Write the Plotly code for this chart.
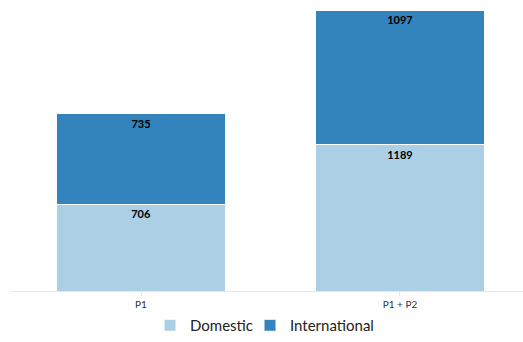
import plotly.graph_objects as go

categories = ["P1", "P1 + P2"]
domestic = [706, 1189]
international = [735, 1097]

label_font = dict(color="black", size=11, family="Lato", weight="bold")

fig = go.Figure()
fig.add_trace(go.Bar(
    x=categories, y=domestic, name="Domestic", legend="legend",
    marker=dict(color="#abd0e6", line=dict(color="white", width=1)),
    text=[str(v) for v in domestic], textposition="inside",
    insidetextanchor="end", textfont=label_font,
))
fig.add_trace(go.Bar(
    x=categories, y=international, name="International", legend="legend2",
    marker=dict(color="#3383bd", line=dict(color="white", width=1)),
    text=[str(v) for v in international], textposition="inside",
    insidetextanchor="end", textfont=label_font,
))

leg_common = dict(orientation="h", xanchor="left", y=0, yanchor="bottom",
                  bgcolor="rgba(0,0,0,0)",
                  font=dict(size=15, color="#222"), itemwidth=30)
fig.update_layout(
    barmode="stack",
    bargap=0.35,
    width=523, height=342,
    margin=dict(l=11, r=0, t=10, b=0),
    paper_bgcolor="white", plot_bgcolor="white",
    font=dict(family="Lato", color="#333"),
    showlegend=True,
    legend=dict(x=(150 - 11) / 512, **leg_common),
    legend2=dict(x=(250 - 11) / 512, **leg_common),
    uniformtext=dict(minsize=8, mode="show"),
)
fig.update_xaxes(range=[-0.502, 1.475], showline=True, linecolor="#e6e6e6", linewidth=1,
                 ticks="outside", tickcolor="#e6e6e6", ticklen=4,
                 tickfont=dict(size=10, color="#333"), showgrid=False)
fig.update_yaxes(range=[0, 2286], domain=[51 / 332, 1], visible=False, showgrid=False)

fig.write_html("out.html")
